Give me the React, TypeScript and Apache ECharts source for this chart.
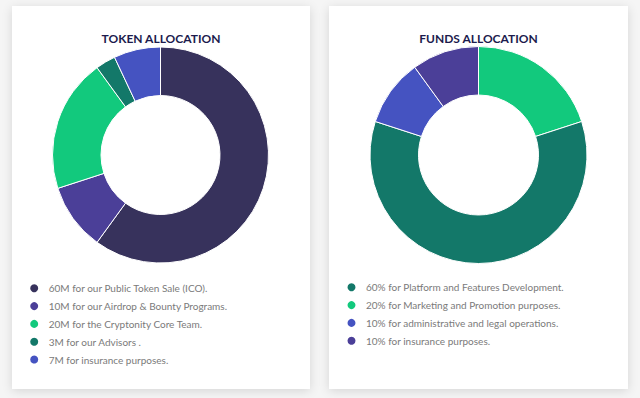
import React, { useEffect, useRef } from "react";
import * as echarts from "echarts";

const tokenLabels = [
  "60M for our Public Token Sale (ICO).",
  "10M for our Airdrop & Bounty Programs.",
  "20M for the Cryptonity Core Team.",
  "3M for our Advisors .",
  "7M for insurance purposes.",
];
const tokenValues = [60, 10, 20, 3, 7];
const tokenColors = ["#37325c", "#4b3f98", "#12c97d", "#137869", "#4553c1"];

// legend order
const fundsLabels = [
  "60% for Platform and Features Development.",
  "20% for Marketing and Promotion purposes.",
  "10% for administrative and legal operations.",
  "10% for insurance purposes.",
];
const fundsValues = [60, 20, 10, 10];
const fundsColors = ["#137869", "#12c97d", "#4553c1", "#4b3f98"];
// order the slices are drawn clockwise from the top
const fundsPieOrder = [1, 0, 2, 3];

export default function App() {
  const ref = useRef<HTMLDivElement>(null);
  useEffect(() => {
    if (!ref.current) return;
    const chart = echarts.init(ref.current, undefined, { renderer: "svg" });
    const legendText = {
      color: "#7a7a7a",
      fontSize: 10,
      lineHeight: 12,
      fontFamily: "Lato",
    };
    const titleStyle = {
      color: "#1c1b4d",
      fontSize: 12,
      fontWeight: "bold" as const,
      fontFamily: "Lato",
    };
    chart.setOption({
      animation: false,
      backgroundColor: "transparent",
      title: [
        { text: "TOKEN ALLOCATION", left: 161, top: 32, textAlign: "center", textStyle: titleStyle, padding: 0 },
        { text: "FUNDS ALLOCATION", left: 478.5, top: 32, textAlign: "center", textStyle: titleStyle, padding: 0 },
      ],
      legend: [
        {
          orient: "vertical",
          left: 28.2,
          top: 282.3,
          padding: 0,
          icon: "circle",
          itemWidth: 19,
          itemHeight: 10,
          itemGap: 5.8,
          selectedMode: false,
          data: tokenLabels,
          textStyle: legendText,
        },
        {
          orient: "vertical",
          left: 345.5,
          top: 281.3,
          padding: 0,
          icon: "circle",
          itemWidth: 19,
          itemHeight: 10,
          itemGap: 5.8,
          selectedMode: false,
          data: fundsLabels,
          textStyle: legendText,
        },
      ],
      series: [
        {
          type: "pie",
          center: [160.5, 155],
          radius: [59.5, 108],
          startAngle: 90,
          label: { show: false },
          labelLine: { show: false },
          silent: true,
          itemStyle: { borderColor: "#ffffff", borderWidth: 1 },
          data: tokenLabels.map((name, i) => ({
            name,
            value: tokenValues[i],
            itemStyle: { color: tokenColors[i] },
          })),
        },
        {
          type: "pie",
          center: [478.5, 155],
          radius: [60, 108.5],
          startAngle: 90,
          label: { show: false },
          labelLine: { show: false },
          silent: true,
          itemStyle: { borderColor: "#ffffff", borderWidth: 1 },
          data: fundsPieOrder.map((i) => ({
            name: fundsLabels[i],
            value: fundsValues[i],
            itemStyle: { color: fundsColors[i] },
          })),
        },
      ],
    });
    return () => chart.dispose();
  }, []);

  const card: React.CSSProperties = {
    position: "absolute",
    top: 6,
    height: 383,
    background: "#ffffff",
    boxShadow: "0 2px 10px rgba(0,0,0,0.13)",
  };

  return (
    <div style={{ position: "fixed", left: 0, top: 0, width: 640, height: 398, background: "#f5f5f5", overflow: "hidden" }}>
      <div style={{ ...card, left: 12, width: 298 }} />
      <div style={{ ...card, left: 329, width: 299 }} />
      <div ref={ref} style={{ position: "absolute", left: 0, top: 0, width: 640, height: 398 }} />
    </div>
  );
}
